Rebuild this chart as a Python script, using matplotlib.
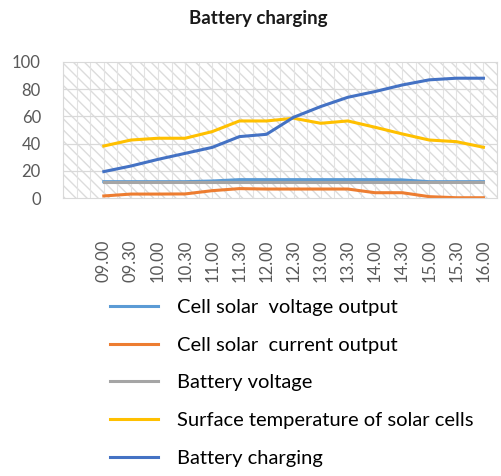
import numpy as np
import matplotlib.pyplot as plt
from matplotlib.patches import Rectangle

# Data
times = ['09.00', '09.30', '10.00', '10.30', '11.00', '11.30', '12.00', '12.30',
         '13.00', '13.30', '14.00', '14.30', '15.00', '15.30', '16.00']
cell_voltage = [12, 12, 12, 12, 12.5, 13.5, 13.5, 13.5, 13.5, 13.5, 13.5, 13.3, 12, 12, 12]
cell_current = [1.5, 2.9, 2.9, 3.0, 5.4, 6.9, 6.6, 6.6, 6.6, 6.6, 3.9, 3.9, 1.0, 0.2, 0.2]
battery_voltage = [11.8] * 15
surface_temp = [38.2, 42.6, 43.9, 43.9, 48.8, 56.6, 56.6, 58.6, 54.9, 56.6, 52.0, 47.1, 42.6, 41.4, 37.3]
battery_charging = [19.4, 23.5, 28.4, 32.8, 37.2, 45.1, 46.8, 59.3, 67.2, 74.0, 78.2, 83.0, 86.8, 88.0, 88.0]

plt.rcParams['font.family'] = ['Lato', 'DejaVu Sans']
plt.rcParams['hatch.color'] = '#dcdcdc'

fig = plt.figure(figsize=(5.01, 4.76), dpi=100)
ax = fig.add_axes([0.126, 0.584, 0.866, 0.286])

x = np.arange(len(times))

# patterned plot background
ax.add_patch(Rectangle((0, 0), 1, 1, transform=ax.transAxes, facecolor='white',
                       edgecolor='#dcdcdc', hatch='\\\\\\', linewidth=0, zorder=0))
for xv in np.arange(-1.5, 14.6, 0.5):
    ax.axvline(xv, color='#e3e3e3', lw=0.8, zorder=0.5)
for yv in range(20, 100, 20):
    ax.axhline(yv, color='#d9d9d9', lw=0.9, zorder=0.5)

ax.plot(x, cell_voltage, color='#5B9BD5', lw=2.2, label='Cell solar  voltage output')
ax.plot(x, cell_current, color='#ED7D31', lw=2.2, label='Cell solar  current output')
ax.plot(x, battery_voltage, color='#A5A5A5', lw=2.2, label='Battery voltage')
ax.plot(x, surface_temp, color='#FFC000', lw=2.2, label='Surface temperature of solar cells')
ax.plot(x, battery_charging, color='#4472C4', lw=2.2, label='Battery charging')

ax.set_xlim(-1.5, 14.5)
ax.set_ylim(0, 100)
ax.set_yticks(range(0, 101, 20))
ax.set_xticks(x)
ax.set_xticklabels(times, rotation=90)
ax.tick_params(axis='both', length=0, colors='#595959', labelsize=12)
ax.tick_params(axis='y', pad=16)
ax.tick_params(axis='x', pad=30)
for s in ax.spines.values():
    s.set_color('#d9d9d9')

fig.text(0.515, 0.962, 'Battery charging', ha='center', va='center',
         fontsize=13.5, fontweight='bold', color='#1a1a1a')

fig.legend(loc='upper left', bbox_to_anchor=(0.184, 0.41), frameon=False,
           fontsize=14.5, handlelength=2.35, handletextpad=0.95, labelspacing=1.02)

fig.savefig('out.png', dpi=100)
